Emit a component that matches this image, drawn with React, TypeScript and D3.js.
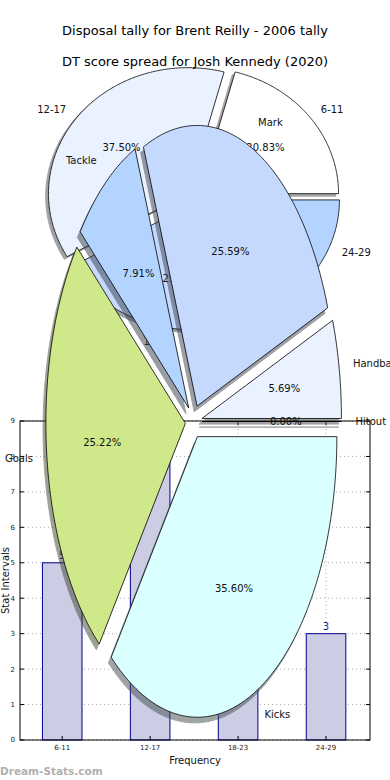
import React from 'react'
import * as d3 from 'd3'

const W = 390
const H = 780

const titles = ['Disposal tally for Brent Reilly - 2006 tally', 'DT score spread for Josh Kennedy (2020)']

// bar chart - Brent Reilly disposals
const barCategories = ['6-11', '12-17', '18-23', '24-29']
const barValues = [5, 9, 7, 3]
const yTicks = [0, 1, 2, 3, 4, 5, 6, 7, 8, 9]

// first pie - Josh Kennedy DT score spread
const dtCategories = ['6-11', '12-17', '18-23', '24-29']
const dtCounts = [5, 9, 7, 3]

// second pie - stat breakdown
const statLabels = ['Hitout', 'Handball', 'Mark', 'Tackle', 'Goals', 'Kicks']
const statPercents = [0.0, 5.69, 25.59, 7.91, 25.22, 35.6]

const pieColors = ['#FFFFFF', '#EAF1FF', '#C5D9FF', '#B3D4FF', '#CFE88A', '#D9FFFF']

const font = 'DejaVu Sans, sans-serif'

function shade(c: string) {
  const rgb = d3.rgb(c)
  return d3.rgb(rgb.r * 0.3, rgb.g * 0.3, rgb.b * 0.3).toString()
}

type PieProps = {
  values: number[]
  labels: string[]
  pcts: string[]
  cx: number
  cy: number
  rx: number
  ry: number
  explode: number
}

// matplotlib style pie: counter clockwise from 3 o'clock, stretched axes
function Pie({ values, labels, pcts, cx, cy, rx, ry, explode }: PieProps) {
  const xs = d3.scaleLinear().domain([-1, 1]).range([cx - rx, cx + rx])
  const ys = d3.scaleLinear().domain([-1, 1]).range([cy + ry, cy - ry])
  const arcs = d3.pie<number>().sort(null).value(d => d)(values)
  const line = d3.line<[number, number]>().x(d => xs(d[0])).y(d => ys(d[1]))

  const parts = arcs.map((a, i) => {
    const t1 = a.startAngle
    const t2 = a.endAngle
    const tm = (t1 + t2) / 2
    const ox = explode * Math.cos(tm)
    const oy = explode * Math.sin(tm)
    const n = Math.max(2, Math.ceil((t2 - t1) / 0.01))
    const pts: [number, number][] = [[ox, oy]]
    for (let k = 0; k <= n; k++) {
      const t = t1 + (t2 - t1) * k / n
      pts.push([ox + Math.cos(t), oy + Math.sin(t)])
    }
    pts.push([ox, oy])
    const shadowPts = pts.map(p => [p[0] - 0.02, p[1] - 0.02] as [number, number])
    const lx = ox + 1.1 * Math.cos(tm)
    const ly = oy + 1.1 * Math.sin(tm)
    const px = ox + 0.6 * Math.cos(tm)
    const py = oy + 0.6 * Math.sin(tm)
    return { d: line(pts) + 'Z', sd: line(shadowPts) + 'Z', color: pieColors[i % pieColors.length], lx, ly, px, py, i }
  })

  return (
    <g>
      {parts.map(p => (
        <path key={'s' + p.i} d={p.sd} fill={shade(p.color)} stroke={shade(p.color)} strokeWidth={1} opacity={0.5} />
      ))}
      {parts.map(p => (
        <path key={'w' + p.i} d={p.d} fill={p.color} stroke="#000" strokeWidth={0.8} strokeLinejoin="miter" />
      ))}
      {parts.map(p => (
        <g key={'t' + p.i} fontFamily={font} fontSize={10} fill="#111">
          <text x={xs(p.lx)} y={ys(p.ly)} dy="0.35em" textAnchor={p.lx > 0 ? 'start' : 'end'}>{labels[p.i]}</text>
          <text x={xs(p.px)} y={ys(p.py)} dy="0.35em" textAnchor="middle">{pcts[p.i]}</text>
        </g>
      ))}
    </g>
  )
}

function BarChart() {
  const x = d3.scaleLinear().domain([-0.48, 3.5]).range([20, 370])
  const y = d3.scaleLinear().domain([0, 9]).range([740, 421])
  const bw = 0.45
  return (
    <g>
      {yTicks.map(t => (
        <line key={'gy' + t} x1={20} x2={370} y1={y(t)} y2={y(t)} stroke="#aaa" strokeDasharray="1,3" />
      ))}
      {barCategories.map((c, i) => (
        <line key={'gx' + c} x1={x(i)} x2={x(i)} y1={421} y2={740} stroke="#aaa" strokeDasharray="1,3" />
      ))}
      {barValues.map((v, i) => (
        <rect key={'b' + i} x={x(i - bw / 2)} y={y(v)} width={x(bw) - x(0)} height={y(0) - y(v)}
          fill="#CCCCE5" stroke="#00008B" strokeWidth={1} />
      ))}
      {barValues.map((v, i) => (
        <text key={'v' + i} x={x(i)} y={y(v) - 4} textAnchor="middle" fontFamily={font} fontSize={10} fill="#1a1a9a">{v}</text>
      ))}
      <rect x={20} y={421} width={350} height={319} fill="none" stroke="#000" strokeWidth={1} />
      {yTicks.map(t => (
        <g key={'ty' + t}>
          <line x1={20} x2={24} y1={y(t)} y2={y(t)} stroke="#000" />
          <line x1={366} x2={370} y1={y(t)} y2={y(t)} stroke="#000" />
          <text x={15} y={y(t)} dy="0.35em" textAnchor="end" fontFamily={font} fontSize={7} fill="#222">{t}</text>
        </g>
      ))}
      {barCategories.map((c, i) => (
        <g key={'tx' + c}>
          <line x1={x(i)} x2={x(i)} y1={740} y2={736} stroke="#000" />
          <line x1={x(i)} x2={x(i)} y1={421} y2={425} stroke="#000" />
          <text x={x(i)} y={750} textAnchor="middle" fontFamily={font} fontSize={7} fill="#222">{c}</text>
        </g>
      ))}
      <text x={195} y={764} textAnchor="middle" fontFamily={font} fontSize={10} fill="#111">Frequency</text>
      <text transform="translate(5,580.5) rotate(-90)" textAnchor="middle" dy="0.35em" fontFamily={font} fontSize={10} fill="#111">Stat Intervals</text>
    </g>
  )
}

export default function App() {
  const dtTotal = d3.sum(dtCounts)
  const dtPcts = dtCounts.map(c => (c / dtTotal * 100).toFixed(2) + '%')
  const statPcts = statPercents.map(p => p.toFixed(2) + '%')
  return (
    <svg width={W} height={H} style={{ position: 'absolute', left: 0, top: 0, background: '#fff' }}>
      <rect width={W} height={H} fill="#fff" />
      <BarChart />
      <Pie values={dtCounts} labels={dtCategories} pcts={dtPcts} cx={193.5} cy={197.5} rx={139.5} ry={126} explode={0.05} />
      <Pie values={statPercents} labels={statLabels} pcts={statPcts} cx={193.7} cy={421.5} rx={139.5} ry={280.6} explode={0.06} />
      <text x={195} y={30} dy="0.35em" textAnchor="middle" fontFamily={font} fontSize={13} fill="#000">{titles[0]}</text>
      <text x={195} y={61} dy="0.35em" textAnchor="middle" fontFamily={font} fontSize={13} fill="#000">{titles[1]}</text>
      <text x={0} y={775} fontFamily={font} fontSize={10.5} fontWeight="bold" fill="#b0b0b0">Dream-Stats.com</text>
    </svg>
  )
}
